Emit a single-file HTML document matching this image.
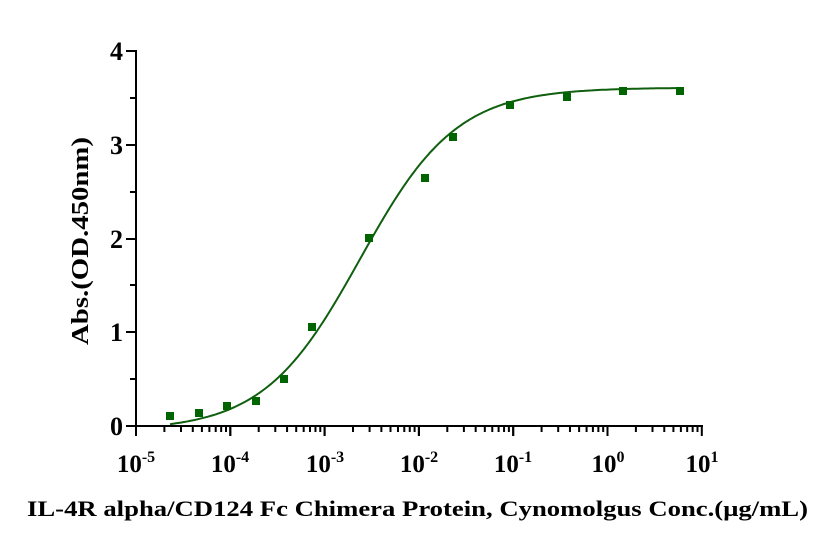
<!DOCTYPE html>
<html><head><meta charset="utf-8"><style>
body{margin:0;background:#fff}
text{font-family:"Liberation Serif",serif;font-weight:bold;fill:#000}
</style></head><body>
<svg width="837" height="547" xmlns="http://www.w3.org/2000/svg">
<g stroke="#000" stroke-width="2" fill="none">
<line x1="136" y1="50" x2="136" y2="427"/>
<line x1="135" y1="426" x2="703" y2="426"/>
<line x1="126" y1="51" x2="136" y2="51"/>
<line x1="126" y1="145" x2="136" y2="145"/>
<line x1="126" y1="239" x2="136" y2="239"/>
<line x1="126" y1="332" x2="136" y2="332"/>
<line x1="126" y1="426" x2="136" y2="426"/>
<line x1="130" y1="98" x2="136" y2="98"/>
<line x1="130" y1="192" x2="136" y2="192"/>
<line x1="130" y1="285" x2="136" y2="285"/>
<line x1="130" y1="379" x2="136" y2="379"/>
</g>
<g id="ticks" stroke="#000" stroke-width="2"></g>
<g font-size="26" text-anchor="end">
<text x="123" y="60">4</text>
<text x="123" y="154">3</text>
<text x="123" y="248">2</text>
<text x="123" y="341">1</text>
<text x="123" y="435">0</text>
</g>
<text transform="translate(88,241) rotate(-90)" font-size="24" text-anchor="middle" textLength="208" lengthAdjust="spacingAndGlyphs">Abs.(OD.450nm)</text>
<g font-size="25" text-anchor="middle">
<text x="136" y="472">10<tspan font-size="16" dy="-10">-5</tspan></text>
<text x="230" y="472">10<tspan font-size="16" dy="-10">-4</tspan></text>
<text x="325" y="472">10<tspan font-size="16" dy="-10">-3</tspan></text>
<text x="419" y="472">10<tspan font-size="16" dy="-10">-2</tspan></text>
<text x="513" y="472">10<tspan font-size="16" dy="-10">-1</tspan></text>
<text x="608" y="472">10<tspan font-size="16" dy="-10">0</tspan></text>
<text x="702" y="472">10<tspan font-size="16" dy="-10">1</tspan></text>
</g>
<text x="27" y="516" font-size="22" textLength="781" lengthAdjust="spacingAndGlyphs">IL-4R alpha/CD124 Fc Chimera Protein, Cynomolgus Conc.(μg/mL)</text>
<path id="curve" fill="none" stroke="#0f5f0f" stroke-width="2"/>
<g id="pts" fill="#006400"></g>
</svg>
<script>
var ns="http://www.w3.org/2000/svg",t=document.getElementById("ticks");
for(var d=0;d<6;d++){for(var k=1;k<=10;k++){var x=136+94.3*(d+Math.log10(k));var l=document.createElementNS(ns,"line");var L=(k==1||k==10)?10:6;l.setAttribute("x1",x);l.setAttribute("x2",x);l.setAttribute("y1",426);l.setAttribute("y2",426+L);t.appendChild(l);}}
var s="";for(var x=170;x<=680;x+=2){var v=-0.05+3.65/(1+Math.pow(10,(360-x)/94.3*0.85));var y=426-v*94;s+=(x==170?"M":"L")+x+","+y.toFixed(1);}
document.getElementById("curve").setAttribute("d",s);
var P=[[170,416],[199,413],[227,406],[256,401],[284,379],[312,327],[369,238],[425,178],[453,137],[510,105],[567,97],[623,91],[680,91]],g=document.getElementById("pts");
P.forEach(function(p){var r=document.createElementNS(ns,"rect");r.setAttribute("x",p[0]-4);r.setAttribute("y",p[1]-4);r.setAttribute("width",8);r.setAttribute("height",8);g.appendChild(r);});
</script>
</body></html>
